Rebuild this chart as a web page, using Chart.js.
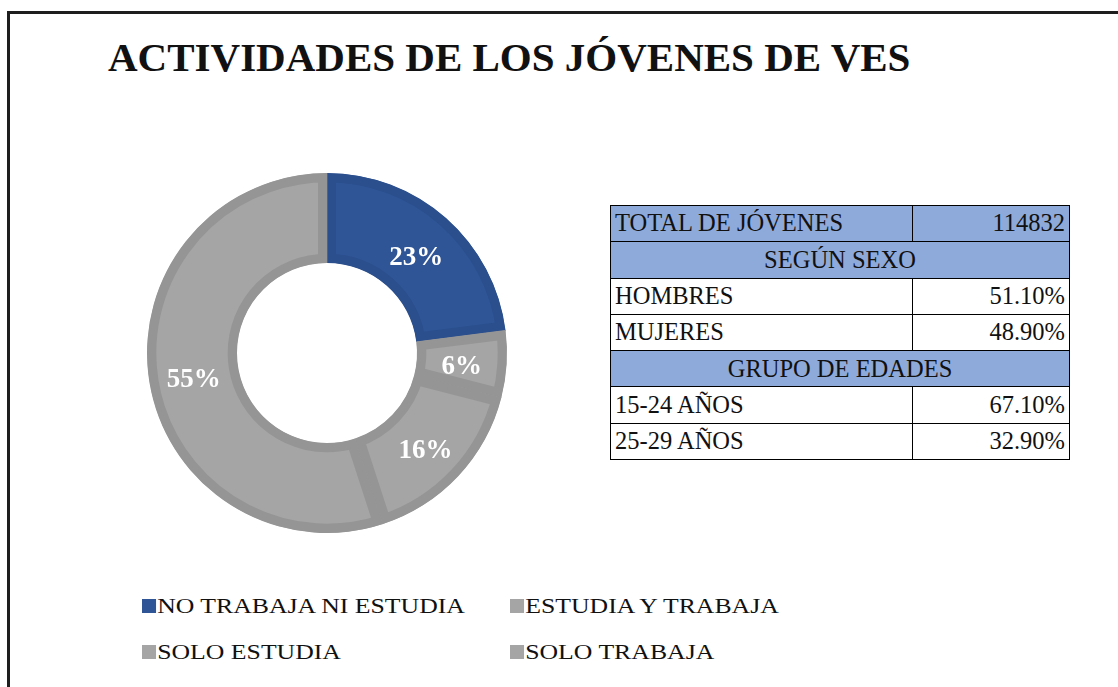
<!DOCTYPE html>
<html lang="es">
<head>
  <meta charset="UTF-8"/>
  <title>Actividades de los jóvenes de VES</title>
  <style>
    * { box-sizing: border-box; }
    body {
      margin: 0;
      width: 1118px; height: 687px;
      background: #fff;
      font-family: "Liberation Serif", "Times New Roman", serif;
      color: #111;
      overflow: hidden;
      position: relative;
    }
    .frame {
      position: absolute; left: 7px; top: 11px;
      width: 1200px; height: 800px;
      border-top: 3px solid #1e1e1e;
      border-left: 3px solid #1e1e1e;
    }
    h1 {
      position: absolute; left: 108px; top: 37px;
      margin: 0;
      font-size: 41px; line-height: 41px; font-weight: bold;
      white-space: nowrap;
    }
    .donut {
      position: absolute; left: 137px; top: 163px;
      width: 380px; height: 380px;
    }
    table {
      position: absolute; left: 610px; top: 205px;
      width: 460px;
      border-collapse: collapse;
      font-size: 24.5px;
    }
    td {
      border: 1.5px solid #000;
      height: 36.3px;
      padding: 0 4px;
      line-height: 1;
      white-space: nowrap;
    }
    td.num { text-align: right; width: 157px; }
    tr.head td { background: #8eaadb; }
    td.center { text-align: center; }
    .legend {
      position: absolute; left: 142px; top: 593px;
      font-size: 22px;
    }
    .legend .item {
      position: absolute;
      display: flex; align-items: center;
      white-space: nowrap;
      transform-origin: left center;
      transform: scaleX(1.17);
    }
    .legend .swatch {
      display: inline-block;
      width: 12px; height: 14px;
      margin-right: 1px;
    }
  </style>
  <script src="https://cdn.jsdelivr.net/npm/chart.js"></script>
</head>
<body>
  <div class="frame"></div>
  <h1>ACTIVIDADES DE LOS JÓVENES DE VES</h1>

  <div class="donut"><canvas id="donut"></canvas></div>
  <table id="summary"></table>
  <div class="legend" id="legend"></div>

  <script>
    // doughnut data
    const categories = ['NO TRABAJA NI ESTUDIA', 'ESTUDIA Y TRABAJA', 'SOLO ESTUDIA', 'SOLO TRABAJA'];
    const shares = [23, 6, 16, 55];
    const fills = ['#2f5597', '#a5a5a5', '#a5a5a5', '#a5a5a5'];
    const edges = ['#2b4f8c', '#959595', '#959595', '#959595'];

    // side table
    const totalLabel = 'TOTAL DE JÓVENES';
    const totalValue = '114832';
    const sexTitle = 'SEGÚN SEXO';
    const sexLabels = ['HOMBRES', 'MUJERES'];
    const sexValues = ['51.10%', '48.90%'];
    const ageTitle = 'GRUPO DE EDADES';
    const ageLabels = ['15-24 AÑOS', '25-29 AÑOS'];
    const ageValues = ['67.10%', '32.90%'];

    const tbl = document.getElementById('summary');
    function addRow(cells, cls) {
      const tr = document.createElement('tr');
      if (cls) tr.className = cls;
      cells.forEach(c => {
        const td = document.createElement('td');
        td.textContent = c.text;
        if (c.cls) td.className = c.cls;
        if (c.span) td.colSpan = c.span;
        tr.appendChild(td);
      });
      tbl.appendChild(tr);
    }
    addRow([{text: totalLabel}, {text: totalValue, cls: 'num'}], 'head');
    addRow([{text: sexTitle, cls: 'center', span: 2}], 'head');
    sexLabels.forEach((l, i) => addRow([{text: l}, {text: sexValues[i], cls: 'num'}]));
    addRow([{text: ageTitle, cls: 'center', span: 2}], 'head');
    ageLabels.forEach((l, i) => addRow([{text: l}, {text: ageValues[i], cls: 'num'}]));

    // percentage labels in the middle of each ring segment
    const sliceLabels = {
      id: 'sliceLabels',
      afterDatasetsDraw(chart) {
        const ctx = chart.ctx;
        const meta = chart.getDatasetMeta(0);
        ctx.save();
        ctx.fillStyle = '#fff';
        ctx.font = 'bold 27px "Liberation Serif", serif';
        ctx.textAlign = 'center';
        ctx.textBaseline = 'middle';
        meta.data.forEach((arc, i) => {
          const p = arc.tooltipPosition();
          ctx.fillText(chart.data.datasets[0].data[i] + '%', p.x, p.y + 6);
        });
        ctx.restore();
      }
    };

    const chart = new Chart(document.getElementById('donut'), {
      type: 'doughnut',
      data: {
        labels: categories,
        datasets: [{
          data: shares,
          backgroundColor: fills,
          borderColor: edges,
          borderWidth: 9,
          borderAlign: 'inner'
        }]
      },
      options: {
        animation: false,
        responsive: true,
        maintainAspectRatio: false,
        cutout: '50%',
        layout: { padding: 10 },
        plugins: { legend: { display: false }, tooltip: { enabled: false } }
      },
      plugins: [sliceLabels]
    });

    // legend, two columns
    const leg = document.getElementById('legend');
    const colX = [0, 368];
    const rowY = [0, 46];
    chart.data.labels.forEach((label, i) => {
      const item = document.createElement('div');
      item.className = 'item';
      item.style.left = colX[i % 2] + 'px';
      item.style.top = rowY[Math.floor(i / 2)] + 'px';
      const sw = document.createElement('span');
      sw.className = 'swatch';
      sw.style.background = chart.data.datasets[0].backgroundColor[i];
      item.appendChild(sw);
      item.appendChild(document.createTextNode(label));
      leg.appendChild(item);
    });
  </script>
</body>
</html>
